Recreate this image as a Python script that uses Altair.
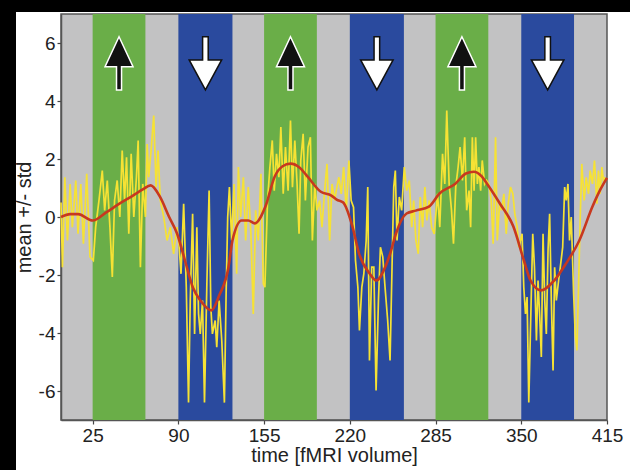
import altair as alt
import pandas as pd

# ---- data ----
green_start = [25, 155, 285]
green_end = [65, 195, 325]
blue_start = [90, 220, 350]
blue_end = [131, 261, 390]
up_arrow_x = [45, 175, 305]
down_arrow_x = [110.5, 240.5, 370]
arrow_y = 5.3
x_ticks = [25, 90, 155, 220, 285, 350, 415]
y_ticks = [-6, -4, -2, 0, 2, 4, 6]
x_domain = [1, 415]
y_domain = [-7, 7]

yellow_x = [1, 2.1, 3.9, 5.9, 7.9, 9.6, 12.2, 13.9, 16.0, 18.0, 20.5, 23.0, 25.5, 27.3, 29.8,
            32.3, 34.1, 36.1, 38.1, 39.9, 41.6, 43.6, 45.6, 47.4, 49.2, 50.7, 52.4, 54.2, 56.2,
            58.2, 59.5, 61.2, 63.0, 65.0, 66.3, 67.5, 69.3, 71.3, 73.1, 74.6, 76.3, 78.9, 81.4,
            83.9, 86.4, 88.9, 90.2, 92.0, 94.0, 96.0, 97.7, 99.0, 100.8, 102.3, 104.0, 105.3,
            106.6, 108.3, 109.8, 111.6, 113.3, 114.6, 115.8, 117.9, 119.1, 120.9, 122.9, 124.9,
            126.2, 127.4, 128.7, 130.4, 132.2, 134.2, 135.5, 137.2, 139.3, 141.0, 143.0, 145.0,
            146.8, 148.6, 150.6, 152.6, 154.4, 155.6, 157.6, 159.4, 161.2, 162.7, 164.4, 166.2,
            167.7, 169.5, 171.2, 173.2, 175.0, 176.5, 178.3, 180.0, 181.5, 182.8, 184.6, 186.3,
            188.3, 190.1, 191.6, 193.4, 195.1, 197.1, 198.9, 200.9, 202.7, 204.7, 206.5, 208.5,
            209.7, 211.7, 213.5, 215.3, 217.3, 219.3, 221.0, 222.8, 224.3, 226.1, 227.3, 229.1,
            230.6, 232.4, 233.6, 234.9, 236.6, 238.2, 239.9, 241.7, 243.2, 245.0, 246.7, 248.7,
            250.5, 252.0, 253.3, 254.5, 255.8, 257.5, 259.3, 261.3, 263.1, 265.1, 266.9, 268.4,
            270.1, 271.9, 273.4, 275.2, 276.9, 278.4, 280.2, 282.0, 284.0, 286.5, 288.2, 290.3,
            292.0, 293.5, 295.3, 297.1, 298.6, 300.3, 302.1, 303.6, 305.4, 307.1, 308.6, 310.4,
            311.6, 312.9, 314.2, 315.4, 316.7, 317.9, 319.2, 320.4, 322.2, 323.7, 325.5, 327.2,
            328.7, 330.5, 331.8, 333.5, 335.0, 336.8, 338.6, 340.1, 341.8, 343.6, 345.1, 346.9,
            348.1, 350.6, 351.9, 353.2, 354.4, 355.7, 356.9, 358.7, 360.0, 361.5, 362.7, 364.0,
            365.2, 366.5, 367.8, 369.0, 370.3, 371.5, 372.8, 374.1, 375.3, 376.6, 378.3, 379.6,
            381.4, 382.9, 384.1, 385.4, 386.6, 387.9, 389.7, 390.9, 392.2, 393.4, 394.7, 395.9,
            397.7, 399.2, 401.0, 402.2, 404.0, 405.5, 407.3, 408.5, 409.8, 411.1, 412.3, 413.6]
yellow_y = [0.5, -1.73, 1.37, -0.81, 1.14, -0.35, 1.26, -0.58, 1.14, -0.92, 1.49, -1.38, -1.50,
            -0.35, 0.57, 1.60, 0.23, 1.26, -0.35, -2.07, 0.57, 1.26, 0.00, 2.29, 0.57, 2.06, -0.58,
            2.18, 0.00, 1.37, 2.64, -1.73, 1.14, 0.00, 2.52, 1.37, 2.29, 3.50, 1.03, 2.29, 0.57,
            0.00, -0.81, -0.35, -1.27, -0.35, -0.81, -1.96, 0.46, -2.42, -6.4, -2.88, 0.11, -4.03,
            -0.35, -3.34, -4.03, -2.88, -6.4, -2.30, 0.91, -3.11, -4.03, -3.57, -4.49, -2.88,
            -4.26, -6.4, -2.65, 0.00, 1.03, -0.81, 1.14, -1.96, 1.72, 0.00, 1.37, -0.81, 1.03,
            -0.58, -3.34, 0.23, -0.81, 1.49, -2.30, -2.42, 0.57, 1.72, 2.64, 0.91, 2.18, 1.37,
            3.10, 0.80, 2.41, 0.91, 3.33, 1.03, 2.64, 1.14, -0.58, 1.95, 2.87, 0.57, 2.41, 2.75,
            -0.81, 1.14, 0.23, 0.57, -0.35, 0.91, 1.83, -0.81, 1.14, 0.57,
            0.91, 1.37, 0.80, 1.72, 0.23, 1.95, 0.57, 0.34, -1.50, -2.42, -3.91, -2.42, -1.96,
            -0.81, 1.03, -4.95, -1.73, -1.73, -5.98, -2.88, -1.04, -1.38, -2.42, -3.57, -4.95,
            -1.73, 1.03, 1.60, -0.81, 0.69, 0.23, 1.72, 0.91, 1.26, -0.35, 0.57, -0.81, -1.27,
            0.69, -0.35, 1.03, -0.12, 0.57, -0.35, -0.58, 0.80, -0.35, 2.18, 1.14, 3.67, 1.14,
            0.23, -0.92, 1.03, 1.72, 2.41, 1.26, 2.75, 0.23, 0.91,
            -0.35, 2.75, 0.91, 2.75, 1.14, 1.72, 0.91, 1.95, 1.14, 1.26, 1.14, 0.57, -0.92, 2.75,
            -0.81, 0.46, 0.23, 0.80, -0.58, 0.46, 1.03, 0.80, 0.11, -0.35, -1.04, -0.58, -2.42,
            -3.34, -2.76, -6.4, -4.03, -0.58, -1.73, -4.26, -2.19, -3.45, -4.83, -0.58, -2.88,
            -4.03, -1.15, 0.11, -2.88, -5.29, -1.73, -2.88, -2.19, -1.73, -1.04, 1.03, 0.57, 1.14,
            -0.81, 0.00, -2.65, -4.03, -4.60, -2.42, 0.00, 1.83, 0.57, 1.37, 0.80, 1.60, 1.14,
            1.95, 0.46, 1.60, 0.80, 1.72, 1.26, 1.37]

red_x = [1, 8, 14, 25, 35, 45, 55, 63, 69, 76, 83, 89, 95, 101, 107, 115, 121, 128, 131, 138,
         143, 148, 156, 163, 169, 175, 182, 188, 198, 206, 210, 215, 222, 227, 235, 240, 247,
         251, 255, 263, 270, 280, 288, 300, 308, 314, 320, 324, 334, 344, 352, 357, 365, 375,
         384, 394, 404, 410, 415]
red_y = [0.0, 0.1, 0.1, -0.12, 0.15, 0.45, 0.72, 0.95, 1.09, 0.7, 0.0, -0.57, -1.5, -2.43, -2.9,
         -3.22, -2.7, -1.73, -0.81, -0.12, -0.12, -0.22, 0.36, 1.39, 1.75, 1.84, 1.7, 1.39, 0.87,
         0.74, 0.6, 0.5, -0.33, -1.26, -1.95, -2.19, -1.71, -1.2, -0.57, 0.12, 0.22, 0.36, 0.81,
         1.15, 1.5, 1.56, 1.4, 1.15, 0.45, -0.33, -1.5, -2.19, -2.53, -2.19, -1.6, -0.81, 0.36,
         0.95, 1.35]

# ---- styling ----
FONT = "Liberation Sans"
GRAY = "#c2c2c3"
GREEN = "#6aae48"
BLUE = "#2a4a9e"
YELLOW = "#f6e234"
RED = "#c8381e"

UP_PATH = "M0,-0.95L0.5,0.12L0.09,0.12L0.09,0.95L-0.09,0.95L-0.09,0.12L-0.5,0.12Z"
DOWN_PATH = "M-0.1,-0.95L0.1,-0.95L0.1,-0.12L0.58,-0.12L0,0.95L-0.58,-0.12L-0.1,-0.12Z"

W, H = 546, 406

xs = alt.Scale(domain=x_domain, nice=False, zero=False)
ys = alt.Scale(domain=y_domain, nice=False, zero=False)

bands = pd.DataFrame({
    "start": green_start + blue_start,
    "end": green_end + blue_end,
    "kind": ["green"] * 3 + ["blue"] * 3,
    "lo": [y_domain[0]] * 6,
    "hi": [y_domain[1]] * 6,
})
yellow = pd.DataFrame({"t": yellow_x, "v": yellow_y})
red = pd.DataFrame({"t": red_x, "v": red_y})
ups = pd.DataFrame({"t": up_arrow_x, "v": [arrow_y] * 3})
downs = pd.DataFrame({"t": down_arrow_x, "v": [arrow_y] * 3})

x_axis = alt.Axis(values=x_ticks, title="time [fMRI volume]", grid=False,
                  labelFontSize=19, titleFontSize=20, labelPadding=2, titlePadding=0,
                  tickSize=4, labelFlush=False)
y_axis = alt.Axis(values=y_ticks, title="mean +/- std", grid=False,
                  labelFontSize=19, titleFontSize=20, labelPadding=2, titlePadding=4,
                  tickSize=4, labelExpr="'' + datum.value")

band_layer = alt.Chart(bands).mark_rect().encode(
    x=alt.X("start:Q", scale=xs, axis=x_axis),
    x2="end:Q",
    y=alt.Y("lo:Q", scale=ys, axis=y_axis),
    y2="hi:Q",
    color=alt.Color("kind:N", scale=alt.Scale(domain=["green", "blue"], range=[GREEN, BLUE]),
                    legend=None),
)

yellow_layer = alt.Chart(yellow).mark_line(color=YELLOW, strokeWidth=1.7).encode(
    x=alt.X("t:Q", scale=xs), y=alt.Y("v:Q", scale=ys), order="t:Q")

red_layer = alt.Chart(red).mark_line(color=RED, strokeWidth=2.6, interpolate="monotone").encode(
    x=alt.X("t:Q", scale=xs), y=alt.Y("v:Q", scale=ys), order="t:Q")

up_layer = alt.Chart(ups).mark_point(shape=UP_PATH, size=3136, fill="#111111", stroke="white",
                                     strokeWidth=1.5, opacity=1, fillOpacity=1).encode(
    x=alt.X("t:Q", scale=xs), y=alt.Y("v:Q", scale=ys))

down_layer = alt.Chart(downs).mark_point(shape=DOWN_PATH, size=3136, fill="white", stroke="#111111",
                                         strokeWidth=1.5, opacity=1, fillOpacity=1).encode(
    x=alt.X("t:Q", scale=xs), y=alt.Y("v:Q", scale=ys))

# black photo border (top and left edges of the picture)
border_top = alt.Chart(pd.DataFrame({"a": [0]})).mark_rect(color="black").encode(
    x=alt.value(-61), x2=alt.value(W + 23), y=alt.value(-14), y2=alt.value(-2))
border_left = alt.Chart(pd.DataFrame({"a": [0]})).mark_rect(color="black").encode(
    x=alt.value(-61), x2=alt.value(-45), y=alt.value(-14), y2=alt.value(H + 50))

chart = alt.layer(band_layer, yellow_layer, red_layer, up_layer, down_layer,
                  border_top, border_left).properties(
    width=W, height=H,
    autosize=alt.AutoSizeParams(type="none"),
    padding={"left": 61, "top": 14, "right": 23, "bottom": 50},
    background="white",
).configure_view(
    fill=GRAY, stroke="#555555", strokeWidth=1.5
).configure_axis(
    labelFont=FONT, titleFont=FONT, labelColor="#222222", titleColor="#222222",
    titleFontWeight="normal", domainColor="#555555", domainWidth=1.5,
    tickColor="#444444", tickWidth=1.2
)

chart.save("out.html", embed_options={"renderer": "svg", "actions": False})
